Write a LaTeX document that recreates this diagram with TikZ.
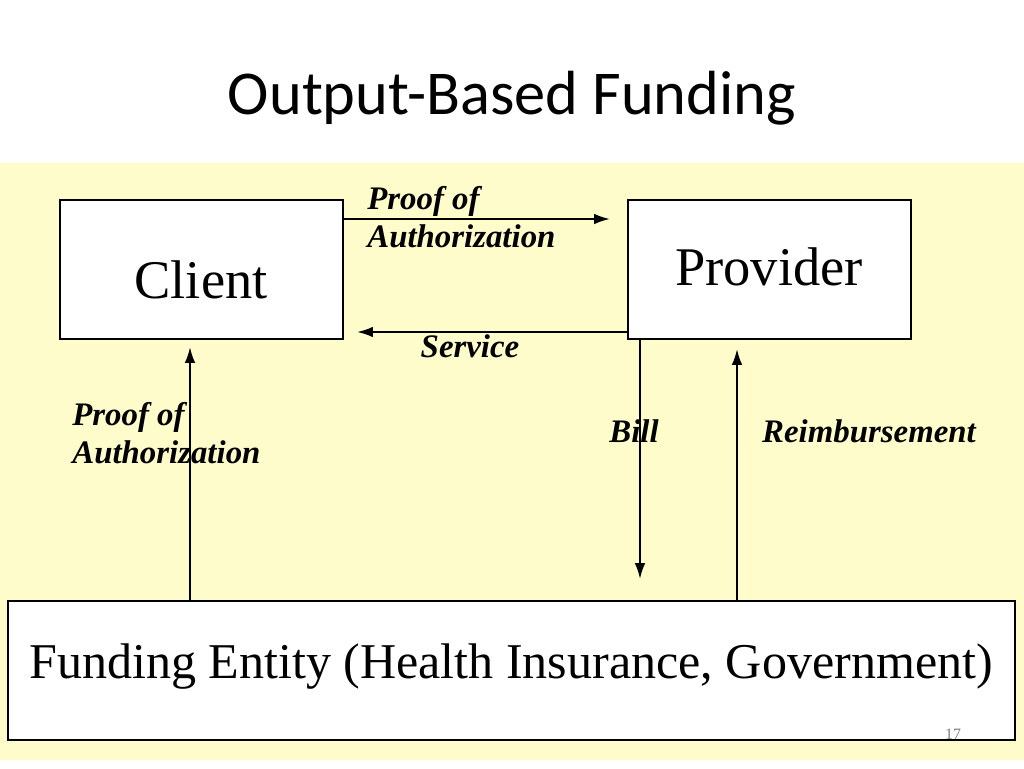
\documentclass[tikz,border=0pt]{standalone}
\usepackage{fontspec}
\setmainfont{Liberation Serif}
\newfontfamily\titlefont{Carlito}
\usetikzlibrary{arrows.meta}
\begin{document}
\begin{tikzpicture}[x=0.02cm,y=-0.02cm,
 box/.style={draw=black,fill=white,line width=0.8pt,inner sep=0},
 arr/.style={-{Latex[length=9pt,width=6pt]},line width=1.2pt},
 lab/.style={font=\fontsize{18.7}{21.5}\selectfont\bfseries\itshape,align=left,inner sep=0}]
\useasboundingbox (0,0) rectangle (1024,768);
\fill[white] (0,0) rectangle (1024,768);
\fill[yellow!20] (0,163) rectangle (1024,760);
\node[font=\titlefont\fontsize{35.5}{40}\selectfont] (title) at (512,98) {Output-Based Funding};
\draw[box] (60,200) rectangle (343,339);
\node[font=\fontsize{31}{34}\selectfont] (client) at (201,280) {Client};
\draw[box] (628,200) rectangle (911,339);
\node[font=\fontsize{31}{34}\selectfont] (prov) at (769,267) {Provider};
\draw[box] (8,601) rectangle (1015,740);
\node[font=\fontsize{28.5}{34}\selectfont] (fund) at (511,667) {Funding Entity (Health Insurance, Government)};
\node[font=\fontsize{9}{10}\selectfont,text=gray] (pg) at (953,734) {17};
\coordinate (a1) at (343,219); \coordinate (a2) at (610,219);
\draw[arr] (a1) -- (a2);
\coordinate (s1) at (628,332); \coordinate (s2) at (357,332);
\draw[arr] (s1) -- (s2);
\coordinate (l1) at (190,601); \coordinate (l2) at (190,347);
\draw[arr] (l1) -- (l2);
\coordinate (b1) at (640,339); \coordinate (b2) at (640,579);
\draw[arr] (b1) -- (b2);
\coordinate (r1) at (737,601); \coordinate (r2) at (737,349);
\draw[arr] (r1) -- (r2);
\node[lab,anchor=north west] (p1) at (367,186) {Proof of\\Authorization};
\node[lab] (sv) at (470,346) {Service};
\node[lab,anchor=north west] (p2) at (72,402) {Proof of\\Authorization};
\node[lab] (bl) at (634,431) {Bill};
\node[lab] (rb) at (869,431) {Reimbursement};
\end{tikzpicture}
\end{document}
